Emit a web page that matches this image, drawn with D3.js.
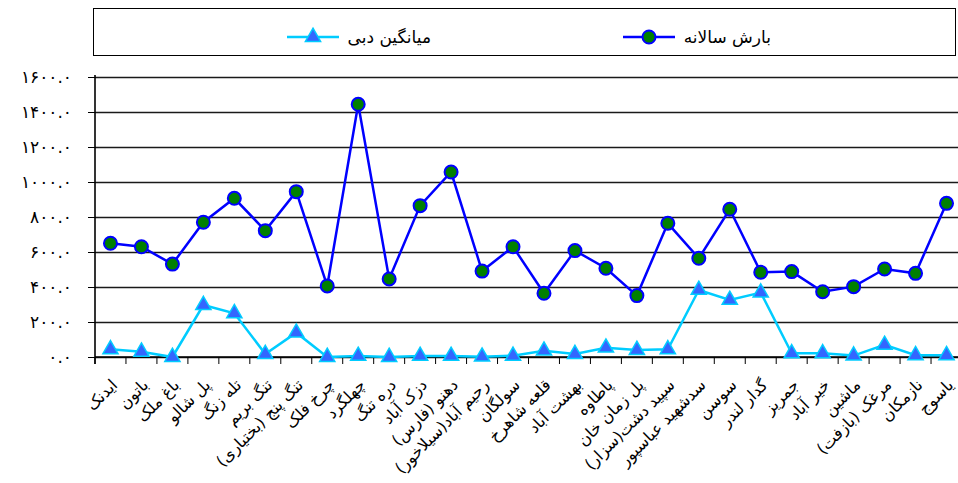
<!DOCTYPE html>
<meta charset="utf-8">
<script src="https://d3js.org/d3.v7.min.js"></script>
<style>
  body { margin: 0; background: #fff; }
  text { font-family: "DejaVu Sans", sans-serif; }
</style>
<div id="chart"></div>
<script>

// stations (x categories)
var stations = ["ایدنک", "باتون", "باغ ملک", "پل شالو", "تله زنگ", "تنگ بریم",
    "تنگ پنج (بختیاری)", "چرخ فلک", "چهلگرد", "دره تنگ", "دزک آباد", "دهنو (فارس)",
    "رحیم آباد(سیلاخور)", "سولگان", "قلعه شاهرخ", "بهشت آباد", "پاطاوه", "پل زمان خان",
    "سپید دشت(سزار)", "سدشهید عباسپور", "سوسن", "گدار لندر", "جمریز", "خیر آباد",
    "ماشین", "مرغک (بازفت)", "نازمکان", "یاسوج"];

// annual rainfall (بارش سالانه)
var rainfall = [650, 630, 531, 770, 907, 722, 945, 406, 1444, 446, 865, 1057, 491, 630,
    364, 608, 507, 351, 764, 564, 844, 484, 488, 373, 402, 503, 478, 878];

// mean discharge (میانگین دبی)
var discharge = [44, 30, 0, 297, 250, 17, 139, 0, 6, 0, 6, 6, 2, 7,
    36, 17, 53, 40, 44, 383, 326, 368, 21, 21, 8, 69, 10, 10];

var yTicks = [0, 200, 400, 600, 800, 1000, 1200, 1400, 1600];
var yTickLabels = ["۰.۰", "۲۰۰.۰", "۴۰۰.۰", "۶۰۰.۰", "۸۰۰.۰", "۱۰۰۰.۰", "۱۲۰۰.۰", "۱۴۰۰.۰", "۱۶۰۰.۰"];

var seriesNames = ["بارش سالانه", "میانگین دبی"];

var width = 958,
    height = 483;

// plot area runs past the right edge of the picture, like the original
var pLeft = 95, pRight = 962, pTop = 77, pBottom = 357;

var svg = d3.select("#chart")
    .append("svg")
        .attr("width", width)
        .attr("height", height);

var x = d3.scaleBand()
    .domain(stations)
    .range([pLeft, pRight])
    .padding(0);

var y = d3.scaleLinear()
    .domain([0, 1600])
    .range([pBottom, pTop]);

var cx = function(d, i) { return x(stations[i]) + x.bandwidth() / 2; };

// gridlines
svg.append("g")
    .attr("transform", "translate(" + pLeft + ",0)")
    .call(d3.axisLeft(y).tickValues(yTicks).tickSize(-(pRight - pLeft)).tickFormat(""))
    .call(function(g) {
        g.select(".domain").remove();
        g.selectAll("line").attr("stroke", "#1a1a1a").attr("stroke-width", 1.3);
    });

// y axis ticks + labels
var yAxis = svg.append("g")
    .attr("transform", "translate(" + pLeft + ",0)")
    .call(d3.axisLeft(y).tickValues(yTicks).tickSize(7).tickPadding(16)
        .tickFormat(function(d, i) { return yTickLabels[i]; }));
yAxis.select(".domain").remove();
yAxis.selectAll("line").attr("stroke", "#000");
yAxis.selectAll("text")
    .style("font-family", "DejaVu Sans")
    .style("font-size", "17px")
    .style("letter-spacing", "1.5px")
    .attr("fill", "#000");

// axis lines
svg.append("line")
    .attr("x1", pLeft).attr("x2", pLeft)
    .attr("y1", y(1600) - 2).attr("y2", pBottom + 7)
    .attr("stroke", "#000").attr("stroke-width", 1.6);
svg.append("line")
    .attr("x1", pLeft).attr("x2", pRight)
    .attr("y1", pBottom).attr("y2", pBottom)
    .attr("stroke", "#000").attr("stroke-width", 1.6);

// x ticks at category boundaries
svg.selectAll(".xtick")
    .data(stations)
    .enter()
    .append("line")
        .attr("class", "xtick")
        .attr("x1", function(d) { return x(d); })
        .attr("x2", function(d) { return x(d); })
        .attr("y1", pBottom)
        .attr("y2", pBottom + 7)
        .attr("stroke", "#000");

// x labels, rotated
svg.selectAll(".xlabel")
    .data(stations)
    .enter()
    .append("text")
        .attr("class", "xlabel")
        .attr("direction", "rtl")
        .attr("text-anchor", "start")
        .attr("transform", function(d) {
            return "translate(" + (x(d) + x.bandwidth() / 2 + 8) + "," + 386 + ") rotate(-45)";
        })
        .style("font-size", "16px")
        .attr("fill", "#000")
        .text(function(d) { return d; });

// discharge line (cyan, triangles)
var line = d3.line()
    .x(cx)
    .y(function(d) { return y(d); });

svg.append("path")
    .datum(discharge)
    .attr("fill", "none")
    .attr("stroke", "#00ccff")
    .attr("stroke-width", 2.5)
    .attr("d", line);

svg.selectAll(".tri")
    .data(discharge)
    .enter()
    .append("path")
        .attr("class", "tri")
        .attr("d", d3.symbol().type(d3.symbolTriangle).size(100))
        .attr("transform", function(d, i) { return "translate(" + cx(d, i) + "," + y(d) + ")"; })
        .attr("fill", "#3366ff")
        .attr("stroke", "#00ccff")
        .attr("stroke-width", 1.5);

// rainfall line (blue, green circles)
svg.append("path")
    .datum(rainfall)
    .attr("fill", "none")
    .attr("stroke", "#0000ff")
    .attr("stroke-width", 2.5)
    .attr("d", line);

svg.selectAll(".dot")
    .data(rainfall)
    .enter()
    .append("circle")
        .attr("class", "dot")
        .attr("cx", cx)
        .attr("cy", function(d) { return y(d); })
        .attr("r", 6.5)
        .attr("fill", "#008000")
        .attr("stroke", "#0000ff")
        .attr("stroke-width", 2);

// legend
var legend = svg.append("g");
legend.append("rect")
    .attr("x", 93.5).attr("y", 8.5)
    .attr("width", 862).attr("height", 47)
    .attr("fill", "#fff")
    .attr("stroke", "#000");

// بارش سالانه
legend.append("line")
    .attr("x1", 623).attr("x2", 675).attr("y1", 37).attr("y2", 37)
    .attr("stroke", "#0000ff").attr("stroke-width", 2.5);
legend.append("circle")
    .attr("cx", 649).attr("cy", 37).attr("r", 6.5)
    .attr("fill", "#008000").attr("stroke", "#0000ff").attr("stroke-width", 2);
legend.append("text")
    .attr("x", 771).attr("y", 43)
    .attr("direction", "rtl").attr("text-anchor", "start")
    .style("font-size", "17px")
    .text(seriesNames[0]);

// میانگین دبی
legend.append("line")
    .attr("x1", 287).attr("x2", 339).attr("y1", 37).attr("y2", 37)
    .attr("stroke", "#00ccff").attr("stroke-width", 2.5);
legend.append("path")
    .attr("d", d3.symbol().type(d3.symbolTriangle).size(100))
    .attr("transform", "translate(313,37)")
    .attr("fill", "#3366ff").attr("stroke", "#00ccff").attr("stroke-width", 1.5);
legend.append("text")
    .attr("x", 431).attr("y", 43)
    .attr("direction", "rtl").attr("text-anchor", "start")
    .style("font-size", "17px")
    .text(seriesNames[1]);

</script>
